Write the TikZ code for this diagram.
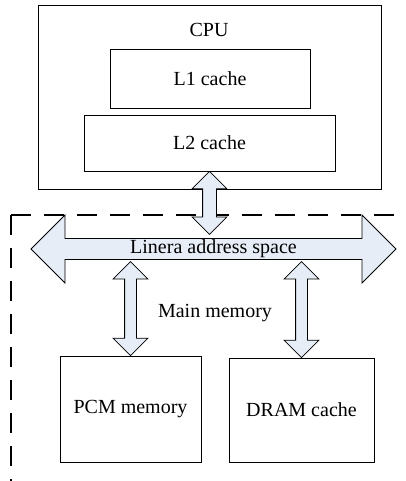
\documentclass[tikz,border=0pt]{standalone}
\usepackage{fontspec}
\setmainfont{Liberation Serif}
\usetikzlibrary{shapes.arrows, calc}
\definecolor{arrowfill}{RGB}{230,237,247}

\begin{document}
\begin{tikzpicture}[x=1pt, y=-1pt,
    every node/.style={font=\fontsize{20}{24}\selectfont},
    box/.style={draw, line width=0.8pt, inner sep=0pt},
    fatarrow/.style={draw, line width=0.8pt, fill=arrowfill, double arrow,
        inner xsep=0pt, inner ysep=5.5pt, double arrow head extend=11.5pt},
    bus/.style={draw, line width=0.8pt, fill=arrowfill, double arrow,
        inner xsep=0pt, inner ysep=1pt, minimum height=365pt,
        double arrow head extend=23.5pt},
    memline/.style={line width=2pt, dash pattern=on 20pt off 13pt}]
    \useasboundingbox (0, 0) rectangle (406, 481);

    % processor side
    \node[box, minimum width=343pt, minimum height=184pt] (cpu) at (209.5, 97) {};
    \node (cpulabel) at (209, 30) {CPU};
    \node[box, minimum width=200pt, minimum height=59pt] (l1) at (210, 78.5) {L1 cache};
    \node[box, minimum width=251pt, minimum height=56pt] (l2) at (209.5, 143) {L2 cache};

    % main memory region
    \draw[memline] (11, 215) -- (406, 215);
    \draw[memline] (11, 215) -- (11, 481);

    \node[bus] (bus) at (213.5, 249) {Linera address space};
    \node (mainmem) at (215, 313) {Main memory};

    \node[box, minimum width=141pt, minimum height=106pt] (pcm) at (130.5, 409) {PCM memory};
    \node[box, minimum width=145pt, minimum height=104pt] (dram) at (301.5, 410) {DRAM cache};

    % links
    \node[fatarrow, rotate=90, minimum height=63pt, inner ysep=6.5pt,
        double arrow head extend=10.5pt] (cpulink) at ($(l2.south)+(0, 31.5)$) {};
    \node[fatarrow, rotate=90, minimum height=94pt] (pcmlink) at ($(pcm.north)+(0, -47)$) {};
    \node[fatarrow, rotate=90, minimum height=96pt] (dramlink) at ($(dram.north)+(0, -48)$) {};
\end{tikzpicture}
\end{document}
